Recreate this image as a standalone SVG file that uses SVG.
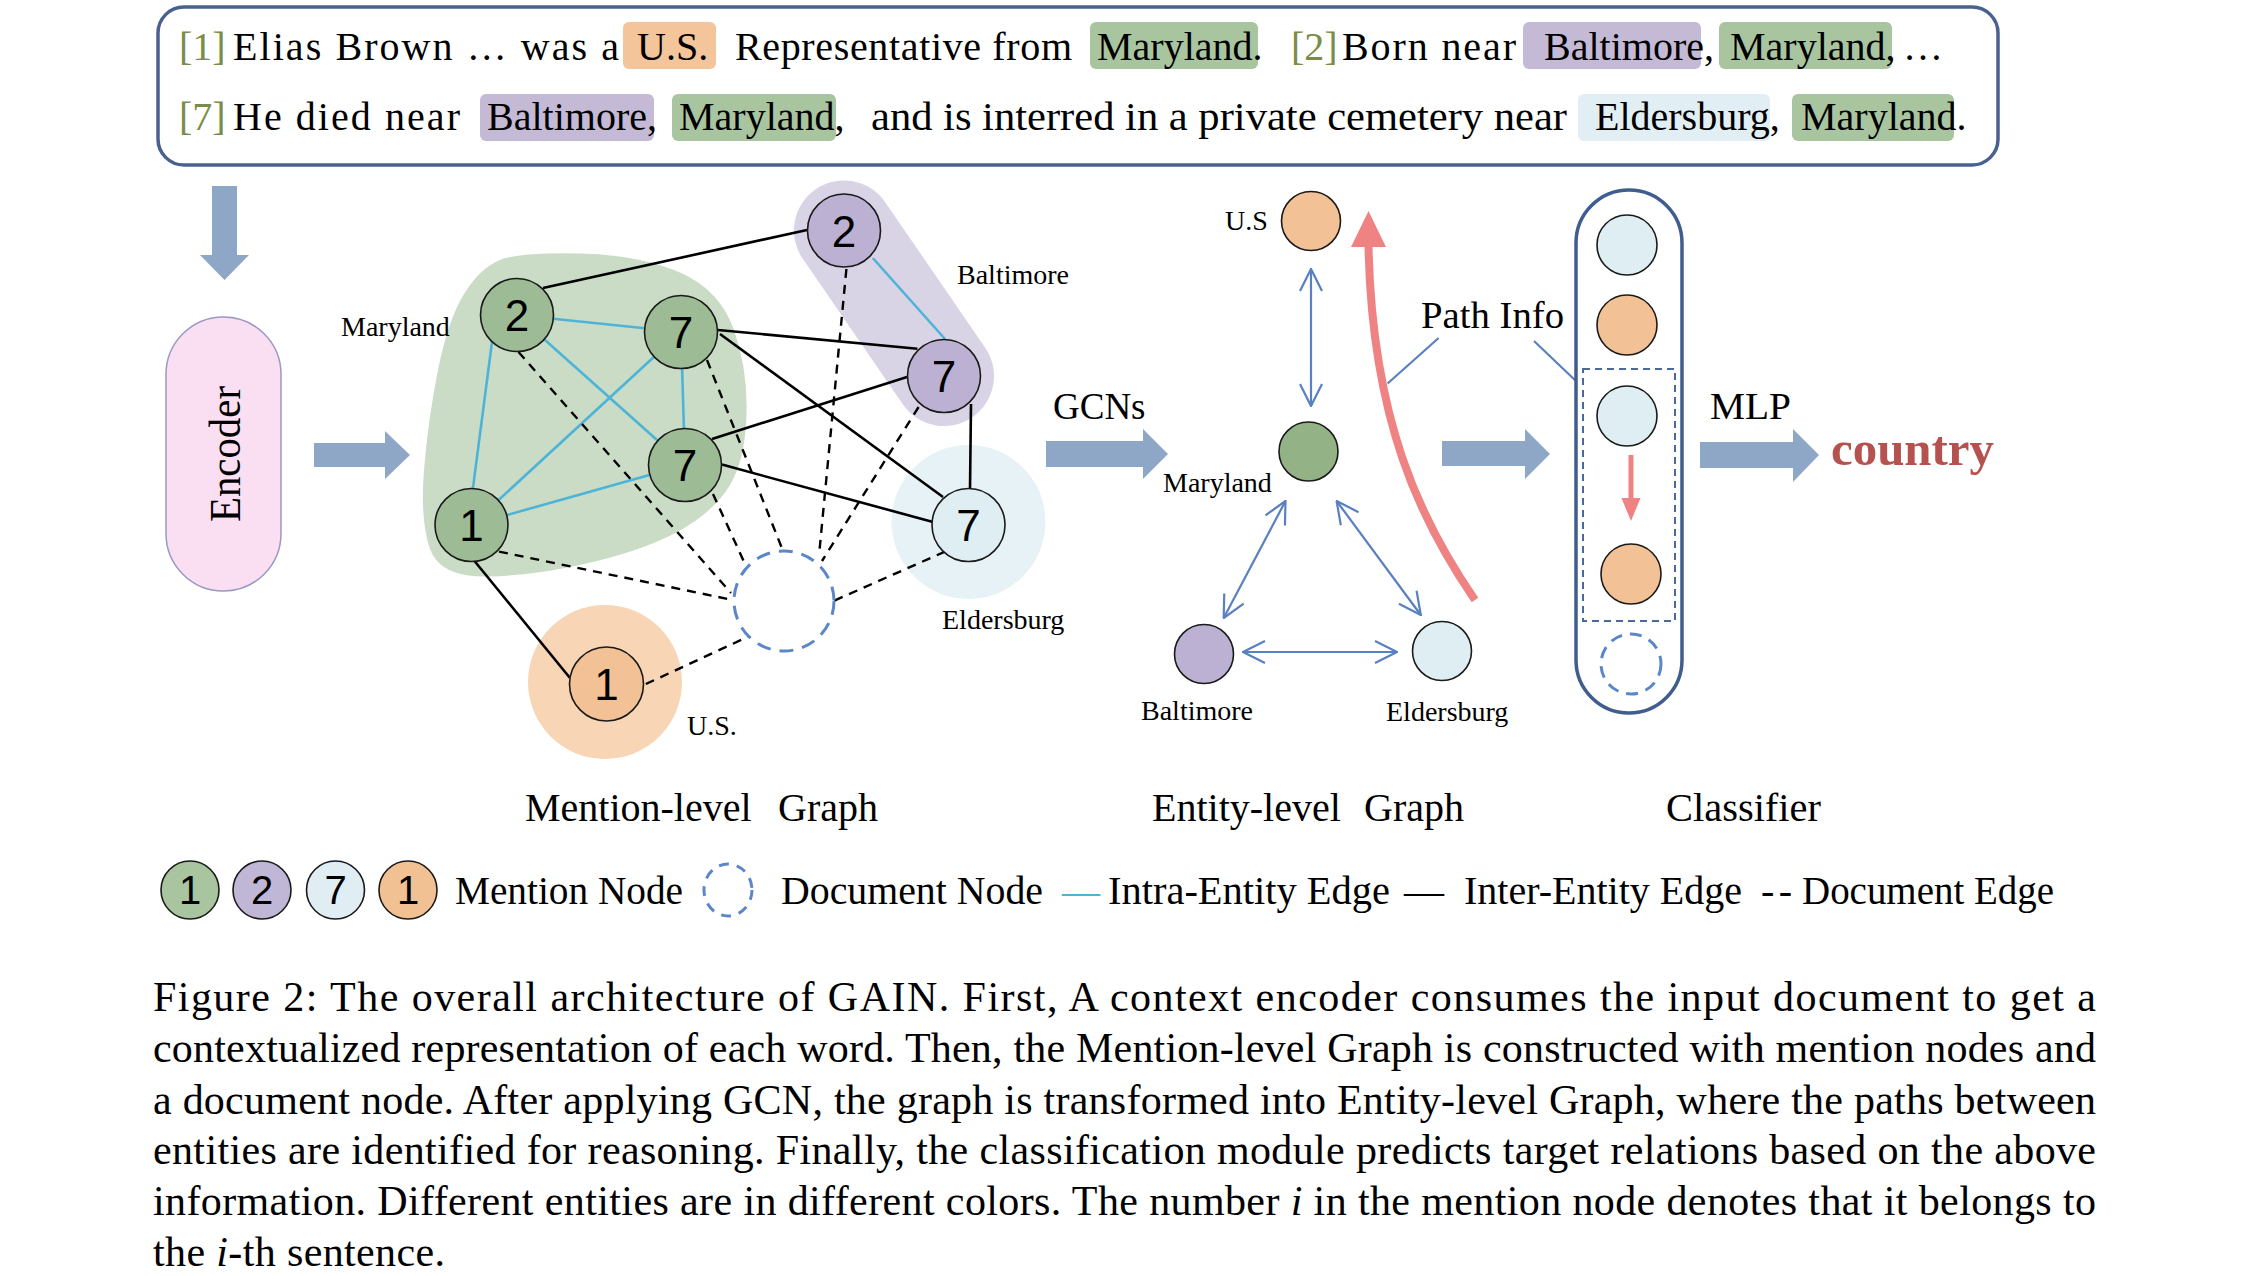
<svg xmlns="http://www.w3.org/2000/svg" width="2242" height="1276" viewBox="0 0 2242 1276">
<defs>
<style>
text{font-family:"Liberation Serif","Times New Roman",serif;fill:#000}
.num{font-family:"Liberation Sans",Arial,sans-serif;font-size:44px;text-anchor:middle}
.lnum{font-family:"Liberation Sans",Arial,sans-serif;font-size:40px;text-anchor:middle}
.top{font-size:40px}
.br{fill:#7a8c45}
.lab{font-size:28px}
.big{font-size:37px}
.title{font-size:40px}
.cap{font-size:42px}
.node{stroke:#1a1a1a;stroke-width:1.6}
.g{fill:#9dbb94}
.ge{fill:#93b387}
.p{fill:#bcb1d2}
.b{fill:#dfeef3}
.o{fill:#f2c195}
.intra{stroke:#4db4d8;stroke-width:2.6;fill:none}
.inter{stroke:#000;stroke-width:2.6;fill:none}
.docE{stroke:#000;stroke-width:2.4;stroke-dasharray:9 7;fill:none}
.docN{fill:none;stroke:#5b87c8;stroke-width:3;stroke-dasharray:14 9}
.blk{fill:#8fa7c7}
.ent{stroke:#5a80c0;stroke-width:2.2;fill:none;marker-start:url(#v);marker-end:url(#v)}
.thin{stroke:#5a80c0;stroke-width:2.2;fill:none}
</style>
<marker id="v" viewBox="0 0 24 24" refX="23" refY="12" markerWidth="24" markerHeight="24" markerUnits="userSpaceOnUse" orient="auto-start-reverse"><path d="M1,1 L23,12 L1,23" fill="none" stroke="#5a80c0" stroke-width="2.2"/></marker>
</defs>
<rect width="2242" height="1276" fill="#fff"/>

<g id="input-text">
<rect x="158" y="7" width="1840" height="158" rx="26" fill="#fff" stroke="#4a6190" stroke-width="3.5"/>
<rect x="623" y="22" width="93" height="47" rx="6" fill="#f4c49b"/>
<rect x="1090" y="22" width="168" height="47" rx="6" fill="#a9c5a0"/>
<rect x="1523" y="22" width="178" height="47" rx="6" fill="#c4bad6"/>
<rect x="1719" y="22" width="173" height="47" rx="6" fill="#a9c5a0"/>
<rect x="480" y="94" width="174" height="47" rx="6" fill="#c4bad6"/>
<rect x="672" y="94" width="164" height="47" rx="6" fill="#a9c5a0"/>
<rect x="1578" y="94" width="192" height="47" rx="6" fill="#e1eff4"/>
<rect x="1792" y="94" width="162" height="47" rx="6" fill="#a9c5a0"/>
<text class="top" y="60"><tspan class="br" x="179">[1]</tspan></text>
<text class="top" x="233" y="60" textLength="386" lengthAdjust="spacing">Elias Brown … was a</text>
<text class="top" x="637" y="60">U.S.</text>
<text class="top" x="735" y="60" textLength="337" lengthAdjust="spacing">Representative from</text>
<text class="top" x="1097" y="60">Maryland.</text>
<text class="top" y="60"><tspan class="br" x="1291">[2]</tspan></text>
<text class="top" x="1342" y="60" textLength="174" lengthAdjust="spacing">Born near</text>
<text class="top" x="1544" y="60">Baltimore,</text>
<text class="top" x="1730" y="60">Maryland,</text>
<text class="top" x="1903" y="60">…</text>
<text class="top" y="130"><tspan class="br" x="179">[7]</tspan></text>
<text class="top" x="233" y="130" textLength="227" lengthAdjust="spacing">He died near</text>
<text class="top" x="487" y="130">Baltimore,</text>
<text class="top" x="679" y="130">Maryland,</text>
<text class="top" x="871" y="130" textLength="696" lengthAdjust="spacingAndGlyphs">and is interred in a private cemetery near</text>
<text class="top" x="1595" y="130">Eldersburg,</text>
<text class="top" x="1801" y="130">Maryland.</text>
</g>

<g id="encoder">
<polygon class="blk" points="212,186 237,186 237,255 249,255 224.5,280 200,255 212,255"/>
<rect x="166" y="317" width="115" height="274" rx="57.5" fill="#f9dff1" stroke="#9b98c4" stroke-width="1.5"/>
<text transform="translate(240,454) rotate(-90)" x="-68" y="0" font-size="44" textLength="136" lengthAdjust="spacingAndGlyphs">Encoder</text>
<polygon class="blk" points="314,443 385,443 385,431 410,455 385,479 385,467 314,467"/>
</g>

<g id="mention-graph">
<path id="blob-maryland" fill="#cadcc5" d="M580,253.5 Q640,255 680,272.5 Q720,290 734,330 Q748,370 746.5,415 Q745,460 730,485 Q715,510 682.5,529 Q650,548 595,561.5 Q540,575 490,576.5 Q440,578 430,549 Q420,520 424,470 Q428,420 438,370 Q448,320 464,294 Q480,268 500,260 Q520,252 580,253.5 Z"/>
<path id="blob-baltimore" d="M844,230.5 L944,376" stroke="#d9d3e6" stroke-width="100" stroke-linecap="round" fill="none"/>
<circle id="halo-eldersburg" cx="968.5" cy="522" r="77" fill="#e6f2f5"/>
<circle id="halo-us" cx="605" cy="682" r="77" fill="#f7d5b5"/>

<g id="mention-connectors">
<line class="intra" x1="517" y1="315" x2="681" y2="332"/>
<line class="intra" x1="517" y1="315" x2="685" y2="465"/>
<line class="intra" x1="492" y1="342" x2="472.7" y2="490"/>
<line class="intra" x1="681" y1="332" x2="685" y2="465"/>
<line class="intra" x1="681" y1="332" x2="471.5" y2="525"/>
<line class="intra" x1="685" y1="465" x2="471.5" y2="525"/>
<line class="intra" x1="872.8" y1="258" x2="945" y2="339"/>
<line class="inter" x1="543" y1="288" x2="807" y2="230"/>
<line class="inter" x1="718" y1="330" x2="917.4" y2="348.7"/>
<line class="inter" x1="720" y1="334" x2="943" y2="497"/>
<line class="inter" x1="712" y1="439" x2="907" y2="377"/>
<line class="inter" x1="722" y1="464.6" x2="933" y2="522"/>
<line class="inter" x1="971" y1="404" x2="970" y2="489"/>
<line class="inter" x1="474.5" y1="561" x2="570" y2="678"/>
<line class="docE" x1="499" y1="551.6" x2="728" y2="599"/>
<line class="docE" x1="518.5" y1="352" x2="731" y2="593"/>
<line class="docE" x1="713" y1="494" x2="745.5" y2="565"/>
<line class="docE" x1="707" y1="360" x2="782.5" y2="549.6"/>
<line class="docE" x1="846.4" y1="269" x2="819" y2="555.5"/>
<line class="docE" x1="918.6" y1="407" x2="822" y2="561"/>
<line class="docE" x1="945" y1="551.6" x2="833.5" y2="601"/>
<line class="docE" x1="645.8" y1="684" x2="748.4" y2="636.6"/>
</g>

<g id="m-md2"><circle class="node g" cx="517" cy="315" r="36.5"/><text class="num" x="517" y="331">2</text></g>
<g id="m-md7a"><circle class="node g" cx="681" cy="332" r="36.5"/><text class="num" x="681" y="348">7</text></g>
<g id="m-md7b"><circle class="node g" cx="685" cy="465" r="36.5"/><text class="num" x="685" y="481">7</text></g>
<g id="m-md1"><circle class="node g" cx="471.5" cy="525" r="36.5"/><text class="num" x="471.5" y="541">1</text></g>
<g id="m-ba2"><circle class="node p" cx="844" cy="230.5" r="36.5"/><text class="num" x="844" y="246.5">2</text></g>
<g id="m-ba7"><circle class="node p" cx="944" cy="376" r="36.5"/><text class="num" x="944" y="392">7</text></g>
<g id="m-el7"><circle class="node b" cx="968.5" cy="525" r="36.5"/><text class="num" x="968.5" y="541">7</text></g>
<g id="m-us1"><circle class="node o" cx="606.5" cy="684" r="37"/><text class="num" x="606.5" y="700">1</text></g>
<g id="m-doc"><circle class="docN" cx="784" cy="601" r="50"/></g>

<text class="lab" x="341" y="336">Maryland</text>
<text class="lab" x="957" y="284">Baltimore</text>
<text class="lab" x="942" y="629">Eldersburg</text>
<text class="lab" x="687" y="735">U.S.</text>
</g>

<g id="gcn">
<text class="big" x="1053" y="419">GCNs</text>
<polygon class="blk" points="1046,441 1143,441 1143,429 1168,454 1143,479 1143,467 1046,467"/>
</g>

<g id="entity-graph">
<g id="entity-connectors">
<line class="ent" x1="1311" y1="269" x2="1311" y2="406"/>
<line class="ent" x1="1285.5" y1="501" x2="1223.7" y2="618"/>
<line class="ent" x1="1336.6" y1="501" x2="1420.8" y2="615"/>
<line class="ent" x1="1243" y1="652" x2="1397" y2="652"/>
<path d="M1475,600 C1420,520 1372,420 1368.5,246" fill="none" stroke="#ef8282" stroke-width="8"/>
<polygon points="1351,247 1386,247 1368.5,211" fill="#ef8282"/>
<line class="thin" x1="1438.6" y1="338" x2="1387.6" y2="383.5"/>
<line class="thin" x1="1534" y1="341" x2="1582" y2="386.7"/>
</g>
<g id="e-us"><circle class="node o" cx="1311" cy="221" r="29.5"/><text class="lab" x="1225" y="230">U.S</text></g>
<g id="e-md"><circle class="node ge" cx="1308.5" cy="451.5" r="29.5"/><text class="lab" x="1163" y="492">Maryland</text></g>
<g id="e-ba"><circle class="node p" cx="1204" cy="654" r="29.5"/><text class="lab" x="1141" y="720">Baltimore</text></g>
<g id="e-el"><circle class="node b" cx="1442" cy="651" r="29.5"/><text class="lab" x="1386" y="721">Eldersburg</text></g>
<text class="big" x="1421" y="328" textLength="143" lengthAdjust="spacingAndGlyphs">Path Info</text>
<polygon class="blk" points="1442,441 1525,441 1525,429 1550,454 1525,479 1525,466 1442,466"/>
</g>

<g id="classifier">
<rect x="1576" y="190" width="106" height="523" rx="53" fill="#fff" stroke="#3f5d8f" stroke-width="3.5"/>
<rect x="1583" y="369" width="92" height="252" fill="none" stroke="#4a6a9c" stroke-width="2" stroke-dasharray="7 5"/>
<circle class="node b" cx="1627" cy="245" r="30"/>
<circle class="node o" cx="1627" cy="325" r="30"/>
<circle class="node b" cx="1627" cy="416" r="30"/>
<circle class="node o" cx="1631" cy="574" r="30"/>
<circle cx="1631" cy="664" r="30" fill="none" stroke="#5b87c8" stroke-width="3" stroke-dasharray="12 8"/>
<line x1="1631" y1="455" x2="1631" y2="500" stroke="#ef8282" stroke-width="5"/>
<polygon points="1621.5,498 1640.5,498 1631,521" fill="#ef8282"/>
</g>

<g id="output">
<text class="big" x="1710" y="419" textLength="81" lengthAdjust="spacingAndGlyphs">MLP</text>
<polygon class="blk" points="1700,442 1793,442 1793,429 1819,455 1793,482 1793,468 1700,468"/>
<text x="1831" y="465" font-size="48" font-weight="bold" style="fill:#b5514f" textLength="163" lengthAdjust="spacingAndGlyphs">country</text>
</g>

<g id="section-titles">
<text class="title" x="525" y="821">Mention-level</text>
<text class="title" x="778" y="821">Graph</text>
<text class="title" x="1152" y="821">Entity-level</text>
<text class="title" x="1364" y="821">Graph</text>
<text class="title" x="1666" y="821" textLength="155" lengthAdjust="spacingAndGlyphs">Classifier</text>
</g>

<g id="legend">
<circle class="node" cx="190" cy="890" r="29" fill="#a9c5a0"/><text class="lnum" x="190" y="904">1</text>
<circle class="node" cx="262" cy="890" r="29" fill="#c0b6d6"/><text class="lnum" x="262" y="904">2</text>
<circle class="node" cx="335.5" cy="890" r="29" fill="#e0eef3"/><text class="lnum" x="335.5" y="904">7</text>
<circle class="node" cx="408" cy="890" r="29" fill="#f2c193"/><text class="lnum" x="408" y="904">1</text>
<text class="title" x="455" y="904" textLength="228" lengthAdjust="spacingAndGlyphs">Mention Node</text>
<ellipse cx="728" cy="890" rx="24" ry="26" fill="none" stroke="#5b87c8" stroke-width="3" stroke-dasharray="10 8"/>
<text class="title" x="781" y="904" textLength="262" lengthAdjust="spacingAndGlyphs">Document Node</text>
<text class="title" x="1062" y="904" style="fill:#4db4d8" textLength="38" lengthAdjust="spacingAndGlyphs">—</text>
<text class="title" x="1108" y="904" textLength="282" lengthAdjust="spacingAndGlyphs">Intra-Entity Edge</text>
<text class="title" x="1404" y="904" textLength="40" lengthAdjust="spacingAndGlyphs">—</text>
<text class="title" x="1464" y="904" textLength="278" lengthAdjust="spacingAndGlyphs">Inter-Entity Edge</text>
<text class="title" x="1761" y="904" textLength="31" lengthAdjust="spacing">--</text>
<text class="title" x="1802" y="904" textLength="252" lengthAdjust="spacingAndGlyphs">Document Edge</text>
</g>

<g id="caption">
<text class="cap" x="153" y="1011" textLength="1943" lengthAdjust="spacing">Figure 2:  The overall architecture of GAIN. First, A context encoder consumes the input document to get a</text>
<text class="cap" x="153" y="1062" textLength="1943" lengthAdjust="spacing">contextualized representation of each word. Then, the Mention-level Graph is constructed with mention nodes and</text>
<text class="cap" x="153" y="1114" textLength="1943" lengthAdjust="spacing">a document node. After applying GCN, the graph is transformed into Entity-level Graph, where the paths between</text>
<text class="cap" x="153" y="1164" textLength="1943" lengthAdjust="spacing">entities are identified for reasoning. Finally, the classification module predicts target relations based on the above</text>
<text class="cap" x="153" y="1215" textLength="1943" lengthAdjust="spacing">information. Different entities are in different colors. The number <tspan font-style="italic">i</tspan> in the mention node denotes that it belongs to</text>
<text class="cap" x="153" y="1266" textLength="292" lengthAdjust="spacing">the <tspan font-style="italic">i</tspan>-th sentence.</text>
</g>
</svg>
